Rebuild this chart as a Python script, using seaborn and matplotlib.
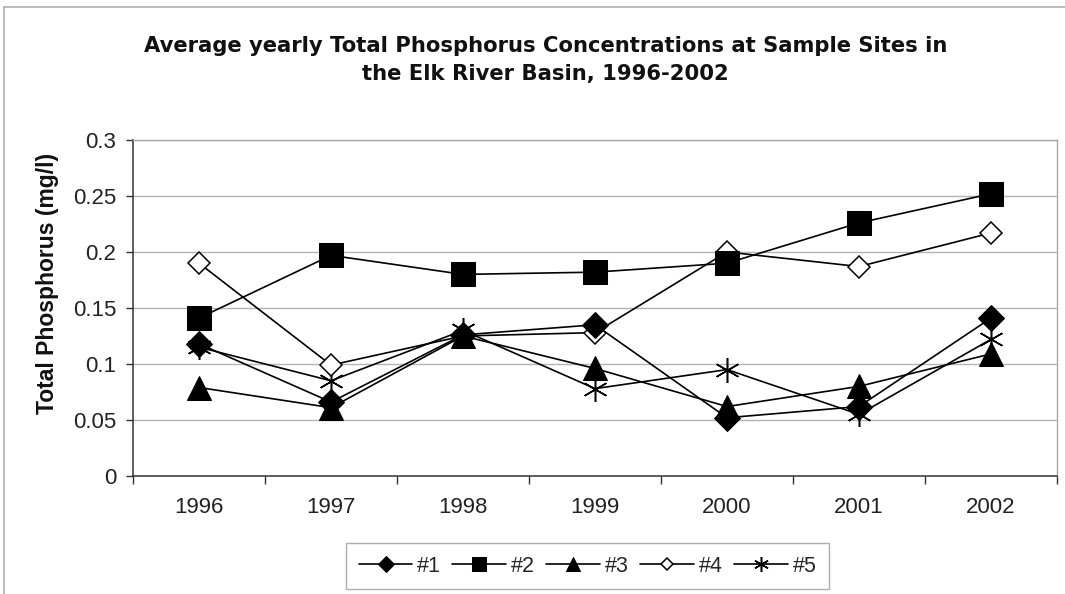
import seaborn as sns
import matplotlib.pyplot as plt
from matplotlib.lines import Line2D
from matplotlib.ticker import FuncFormatter

# Data
years = ['1996', '1997', '1998', '1999', '2000', '2001', '2002']
site1 = [0.118, 0.066, 0.126, 0.135, 0.052, 0.062, 0.141]
site2 = [0.141, 0.197, 0.180, 0.182, 0.190, 0.226, 0.252]
site3 = [0.079, 0.061, 0.125, 0.096, 0.062, 0.080, 0.109]
site4 = [0.190, 0.099, 0.125, 0.128, 0.200, 0.187, 0.217]
site5 = [0.115, 0.085, 0.130, 0.078, 0.095, 0.055, 0.122]
labels = ['#1', '#2', '#3', '#4', '#5']

sns.set_theme(style='white')
plt.rcParams['font.family'] = ['Liberation Sans', 'DejaVu Sans']

fig = plt.figure(figsize=(10.65, 5.94), dpi=100)
ax = fig.add_axes([0.1249, 0.1987, 0.8676, 0.5656])

styles = [
    dict(marker='D', markersize=13.5, markerfacecolor='black'),
    dict(marker='s', markersize=17.5, markerfacecolor='black'),
    dict(marker='^', markersize=17.5, markerfacecolor='black'),
    dict(marker='D', markersize=11, markerfacecolor='white', markeredgewidth=1.1),
    dict(marker=(6, 2, 0), markersize=18, markeredgewidth=1.1),
]
series = [site1, site2, site3, site4, site5]
for i, (vals, lab, st) in enumerate(zip(series, labels, styles)):
    sns.lineplot(x=years, y=vals, ax=ax, color='black', linewidth=1.2,
                 markeredgecolor='black', label=lab, zorder=10 - i, **st)

ax.set_ylim(0, 0.3)
ax.set_xlim(-0.5, 6.5)
ax.set_yticks([0, 0.05, 0.1, 0.15, 0.2, 0.25, 0.3])
ax.yaxis.set_major_formatter(FuncFormatter(lambda v, p: '%g' % round(v, 2)))
ax.yaxis.grid(True, color='#b4b4b4', linewidth=1)
ax.set_axisbelow(True)

ax.set_xticks(range(7))
ax.set_xticks([i - 0.5 for i in range(8)], minor=True)
ax.tick_params(axis='x', which='major', length=0, pad=15, labelsize=16, colors='#222222')
ax.tick_params(axis='x', which='minor', length=6, width=1, color='#333333', direction='out', bottom=True)
ax.tick_params(axis='y', length=5, width=1, color='#333333', direction='out', left=True,
               pad=7, labelsize=16, labelcolor='#222222')

for s in ['left', 'bottom']:
    ax.spines[s].set_color('#333333')
    ax.spines[s].set_linewidth(1.1)
for s in ['top', 'right']:
    ax.spines[s].set_color('#a8a8a8')
    ax.spines[s].set_linewidth(1)

ax.set_xlabel('')
ax.set_ylabel('')
fig.text(0.045, 0.522, 'Total Phosphorus (mg/l)', rotation=90, ha='center', va='center',
         fontsize=16.5, fontweight='bold', color='#111111')
fig.text(0.512, 0.899, 'Average yearly Total Phosphorus Concentrations at Sample Sites in\nthe Elk River Basin, 1996-2002',
         ha='center', va='center', fontsize=15.2, fontweight='bold', linespacing=1.55,
         color='#111111', family=['DejaVu Sans'])

ax.get_legend().remove()
handles, labs = ax.get_legend_handles_labels()
leg = fig.legend(handles, labs, loc='center', bbox_to_anchor=(0.5516, 0.047), ncol=5,
                 fontsize=15.5, frameon=True, fancybox=False, edgecolor='#999999',
                 handlelength=2.5, handletextpad=0.2, columnspacing=0.55, markerscale=0.6,
                 borderpad=0.6)
leg.get_frame().set_linewidth(1)

# outer chart border (top / left)
fig.add_artist(Line2D([0.004, 1.0], [0.988, 0.988], color='#b0b0b0', linewidth=1.2, transform=fig.transFigure))
fig.add_artist(Line2D([0.004, 0.004], [0.0, 0.988], color='#b0b0b0', linewidth=1.2, transform=fig.transFigure))

fig.savefig('out.png', dpi=100)
